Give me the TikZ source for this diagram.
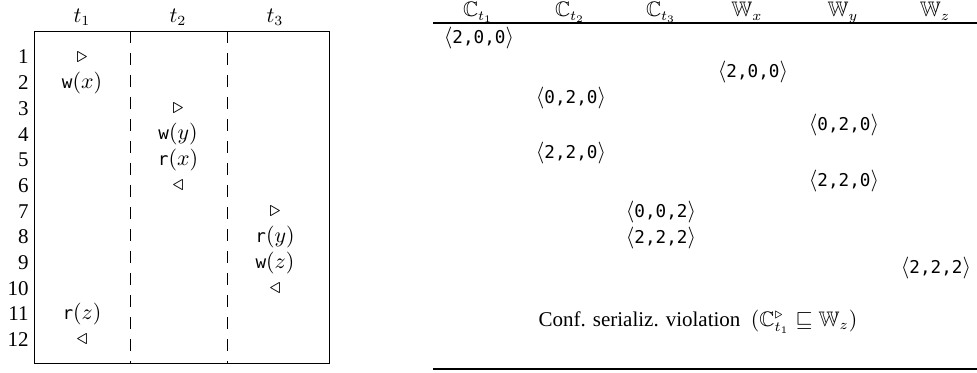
\documentclass[tikz,border=0pt]{standalone}
\usepackage{amssymb}
\usepackage{fontspec}
\setmainfont{Liberation Serif}
\setmonofont[Scale=0.84]{DejaVu Sans Mono}
\newcommand{\acc}[2]{\texttt{#1}(#2)}
\newcommand{\vc}[1]{\langle\texttt{#1}\rangle}
\tikzset{
  cell/.style={inner sep=0pt, font=\fontsize{10.5}{12}\selectfont},
  rownum/.style={cell, anchor=east},
  rule/.style={line width=1pt},
  sep/.style={dash pattern=on 6 off 5, line width=0.4pt},
}
\begin{document}
\begin{tikzpicture}[x=0.5pt, y=-0.5pt]
  \useasboundingbox (0,0) rectangle (977,373);
  \def\RowH{25.7}

  % --- trace of the three threads ---
  \draw[line width=0.4pt] (34,31) rectangle (329,363);
  \draw[sep] (130,31) -- (130,363);
  \draw[sep] (227,31) -- (227,363);

  \node[cell] (t1) at (82,17)  {$t_1$};
  \node[cell] (t2) at (178,17) {$t_2$};
  \node[cell] (t3) at (275,17) {$t_3$};

  \foreach \i in {1,...,12} {
    \pgfmathsetmacro{\ry}{57+\RowH*(\i-1)}
    \node[rownum] (n\i) at (29,\ry) {\i};
  }

  % t1
  \node[cell] (b1) at (82,57)              {$\triangleright$};
  \node[cell] (wx) at (82,57+\RowH)        {$\acc{w}{x}$};
  \node[cell] (rz) at (82,57+10*\RowH)     {$\acc{r}{z}$};
  \node[cell] (e1) at (82,57+11*\RowH)     {$\triangleleft$};
  % t2
  \node[cell] (b2) at (178,57+2*\RowH)     {$\triangleright$};
  \node[cell] (wy) at (178,57+3*\RowH)     {$\acc{w}{y}$};
  \node[cell] (rx) at (178,57+4*\RowH)     {$\acc{r}{x}$};
  \node[cell] (e2) at (178,57+5*\RowH)     {$\triangleleft$};
  % t3
  \node[cell] (b3) at (275,57+6*\RowH)     {$\triangleright$};
  \node[cell] (ry) at (275,57+7*\RowH)     {$\acc{r}{y}$};
  \node[cell] (wz) at (275,57+8*\RowH)     {$\acc{w}{z}$};
  \node[cell] (e3) at (275,57+9*\RowH)     {$\triangleleft$};

  % --- vector clocks table ---
  \draw[rule] (433,23) -- (977,23);
  \draw[rule] (433,369) -- (977,369);

  \node[cell, anchor=base] (Ct1) at (478,17) {$\mathbb{C}_{t_1}$};
  \node[cell, anchor=base] (Ct2) at (570,17) {$\mathbb{C}_{t_2}$};
  \node[cell, anchor=base] (Ct3) at (661,17) {$\mathbb{C}_{t_3}$};
  \node[cell, anchor=base] (Wx)  at (747,17) {$\mathbb{W}_x$};
  \node[cell, anchor=base] (Wy)  at (843,17) {$\mathbb{W}_y$};
  \node[cell, anchor=base] (Wz)  at (935,17) {$\mathbb{W}_z$};

  \node[cell] (v1) at (479,38)  {$\vc{2,0,0}$};
  \node[cell] (v2) at (753,72)  {$\vc{2,0,0}$};
  \node[cell] (v3) at (571,98)  {$\vc{0,2,0}$};
  \node[cell] (v4) at (844,125) {$\vc{0,2,0}$};
  \node[cell] (v5) at (571,153) {$\vc{2,2,0}$};
  \node[cell] (v6) at (844,181) {$\vc{2,2,0}$};
  \node[cell] (v7) at (661,212) {$\vc{0,0,2}$};
  \node[cell] (v8) at (661,238) {$\vc{2,2,2}$};
  \node[cell] (v9) at (936,268) {$\vc{2,2,2}$};

  \node[cell] (msg) at (698,322)
    {Conf. serializ. violation~~$(\mathbb{C}^{\triangleright}_{t_1} \sqsubseteq \mathbb{W}_z)$};

\end{tikzpicture}
\end{document}
